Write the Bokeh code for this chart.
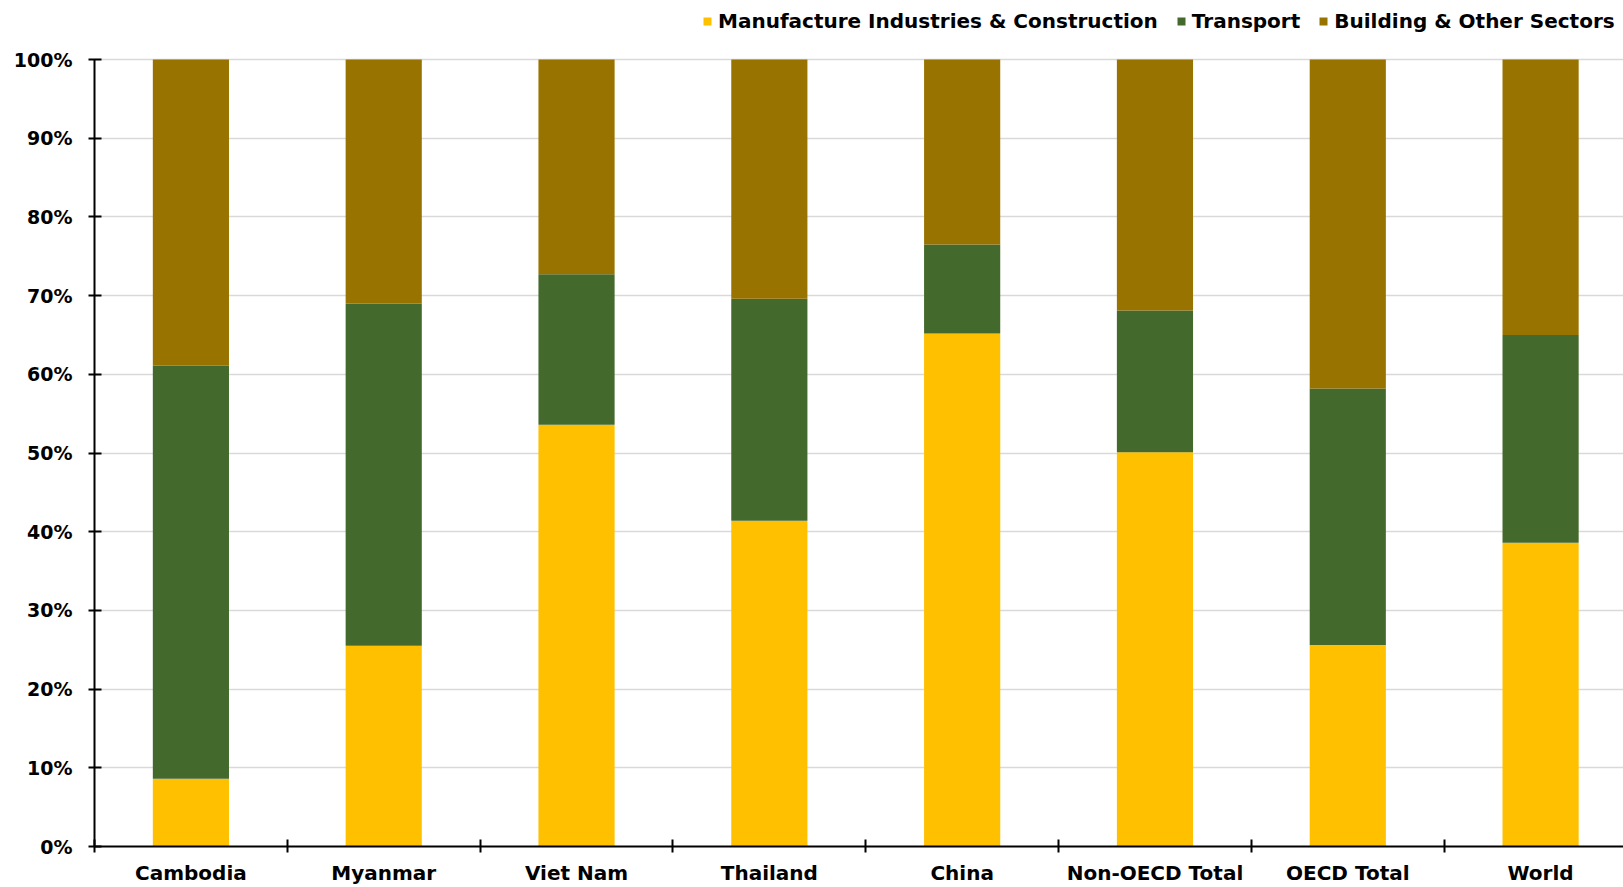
from bokeh.plotting import figure
from bokeh.models import (ColumnDataSource, Range1d, FixedTicker, PrintfTickFormatter,
                          Legend, LegendItem)
from bokeh.embed import file_html
from bokeh.resources import INLINE

# Share of fuel-combustion CO2 emissions by sector (%)
categories = ["Cambodia", "Myanmar", "Viet Nam", "Thailand", "China",
              "Non-OECD Total", "OECD Total", "World"]
manufacture = [8.6, 25.5, 53.6, 41.4, 65.2, 50.1, 25.6, 38.6]
transport = [52.5, 43.5, 19.1, 28.2, 11.3, 18.0, 32.6, 26.4]
building = [38.9, 31.0, 27.3, 30.4, 23.5, 31.9, 41.8, 35.0]

series_names = ["Manufacture Industries & Construction", "Transport", "Building & Other Sectors"]
series_keys = ["manufacture", "transport", "building"]
colors = ["#FFC000", "#43692C", "#997300"]
y_ticks = [0, 10, 20, 30, 40, 50, 60, 70, 80, 90, 100]

FONT = "DejaVu Sans"

source = ColumnDataSource(dict(
    x=[i + 0.5 for i in range(len(categories))],
    manufacture=manufacture,
    transport=transport,
    building=building,
))

# the frame reaches the top edge so the legend can sit above the 100% line
p = figure(width=1623, height=887, output_backend="svg", toolbar_location=None,
           x_range=Range1d(0, 7.93), y_range=Range1d(0, 107.5),
           min_border_left=94, min_border_right=0, min_border_bottom=40, min_border_top=0)
p.outline_line_color = None
p.background_fill_color = "white"
p.border_fill_color = "white"

renderers = p.vbar_stack(series_keys, x="x", width=0.395, source=source, color=colors,
                         line_color=None)

# x axis: labels at category centres, tick marks at category boundaries
xa = p.xaxis[0]
xa.ticker = FixedTicker(ticks=[i + 0.5 for i in range(len(categories))],
                        minor_ticks=list(range(0, len(categories) + 1)))
xa.major_label_overrides = {i + 0.5: c for i, c in enumerate(categories)}
xa.major_tick_line_color = None
xa.minor_tick_in = 7
xa.minor_tick_out = 6
xa.minor_tick_line_color = "black"
xa.minor_tick_line_width = 2
xa.axis_line_color = "black"
xa.axis_line_width = 2
xa.major_label_text_font = FONT
xa.major_label_text_font_style = "bold"
xa.major_label_text_font_size = "20px"
xa.major_label_text_color = "black"
xa.major_label_standoff = 8

ya = p.yaxis[0]
ya.bounds = (0, 100)
ya.ticker = FixedTicker(ticks=y_ticks, minor_ticks=[])
ya.formatter = PrintfTickFormatter(format="%d%%")
ya.major_tick_in = 7
ya.major_tick_out = 6
ya.major_tick_line_width = 2
ya.major_tick_line_color = "black"
ya.axis_line_color = "black"
ya.axis_line_width = 2
ya.major_label_text_font = FONT
ya.major_label_text_font_style = "bold"
ya.major_label_text_font_size = "19px"
ya.major_label_text_color = "black"
ya.major_label_standoff = 16

p.xgrid.grid_line_color = None
p.ygrid.grid_line_color = "#D9D9D9"
p.ygrid.grid_line_width = 1.5
p.ygrid.ticker = FixedTicker(ticks=y_ticks)

legend = Legend(items=[LegendItem(label=n, renderers=[r]) for n, r in zip(series_names, renderers)],
                orientation="horizontal", location=(608, 813),
                border_line_color=None, background_fill_alpha=0,
                label_text_font=FONT, label_text_font_style="bold",
                label_text_font_size="20px", label_text_color="black",
                glyph_width=10, glyph_height=10, label_standoff=6, spacing=18,
                padding=0, margin=0, label_height=20)
p.add_layout(legend, "center")

open("out.html", "w").write(file_html(p, INLINE))
